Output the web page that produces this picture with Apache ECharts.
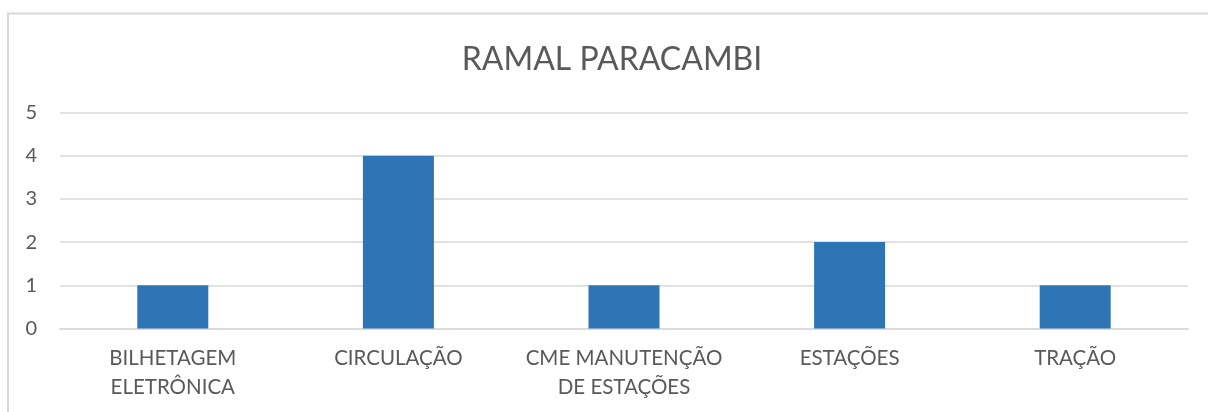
<!DOCTYPE html>
<html>
<head>
<meta charset="utf-8">
<script src="https://cdn.jsdelivr.net/npm/echarts@6/dist/echarts.min.js"></script>
<style>
  html, body { margin: 0; padding: 0; background: #fff; }
  #bar { width: 1208px; height: 412px; }
</style>
</head>
<body>
<div id="bar"></div>
<script>
var categories = [
  "BILHETAGEM\nELETRÔNICA",
  "CIRCULAÇÃO",
  "CME MANUTENÇÃO\nDE ESTAÇÕES",
  "ESTAÇÕES",
  "TRAÇÃO"
];
var values = [1, 4, 1, 2, 1];
var yTicks = [0, 1, 2, 3, 4, 5];

var chart = echarts.init(document.getElementById("bar"));
var textColor = "#595959";
var fontFamily = "Lato, 'Open Sans', sans-serif";

var option = {
  animation: false,
  textStyle: { fontFamily: fontFamily },
  title: {
    text: "RAMAL PARACAMBI",
    left: 612,
    top: 44,
    padding: 0,
    textAlign: "center",
    textStyle: {
      color: textColor,
      fontSize: 32,
      fontWeight: "normal",
      fontFamily: fontFamily
    }
  },
  graphic: [
    {
      type: "rect",
      shape: { x: 8, y: 13.5, width: 1300, height: 500 },
      style: { fill: "none", stroke: "#d9d9d9", lineWidth: 2 },
      silent: true
    }
  ],
  grid: {
    left: 60,
    right: 20,
    top: 112.5,
    bottom: 83.5,
    containLabel: false
  },
  xAxis: {
    type: "category",
    data: categories,
    axisLine: { show: true, lineStyle: { color: "#d9d9d9", width: 1.5 } },
    axisTick: { show: false },
    axisLabel: {
      color: textColor,
      fontSize: 20.5,
      lineHeight: 28.5,
      margin: 16,
      interval: 0,
      fontFamily: fontFamily
    }
  },
  yAxis: {
    type: "value",
    min: yTicks[0],
    max: yTicks[yTicks.length - 1],
    interval: 1,
    axisLine: { show: false },
    axisTick: { show: false },
    splitLine: { lineStyle: { color: "#d9d9d9", width: 1.5 } },
    axisLabel: {
      color: textColor,
      fontSize: 20,
      margin: 23,
      fontFamily: fontFamily
    }
  },
  series: [
    {
      type: "bar",
      data: values,
      barWidth: 71,
      itemStyle: { color: "#2E75B6" }
    }
  ]
};

chart.setOption(option);
</script>
</body>
</html>
